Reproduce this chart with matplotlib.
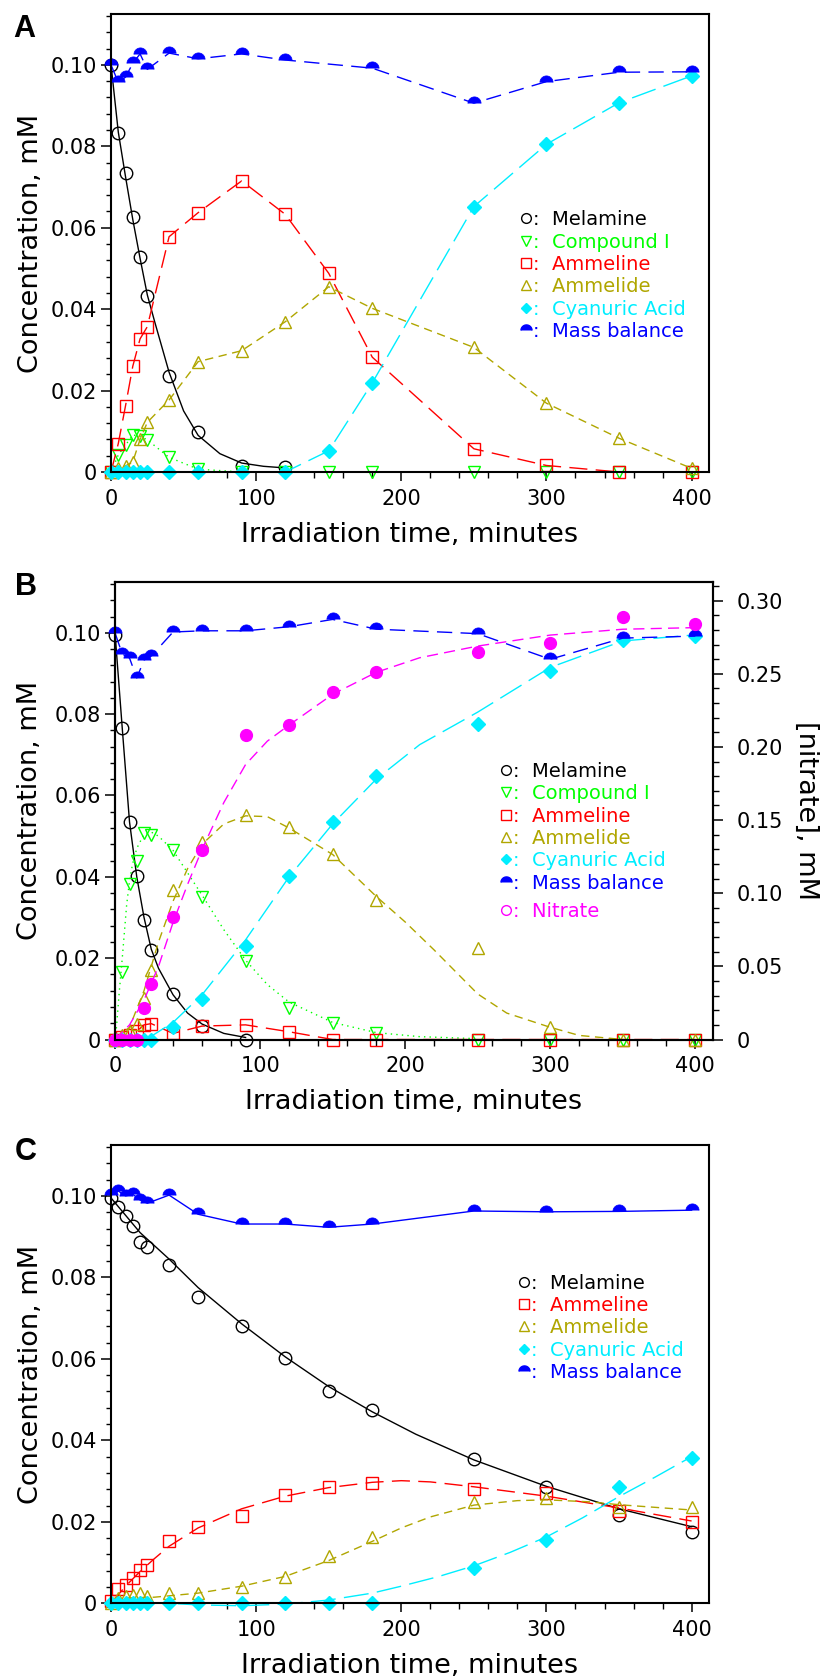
import numpy as np
import matplotlib.pyplot as plt
from matplotlib.lines import Line2D
from matplotlib.ticker import MultipleLocator, FuncFormatter

plt.rcParams['font.family'] = ['DejaVu Sans']

# ---- sampling times (minutes) ----
t = [0, 5, 10, 15, 20, 25, 40, 60, 90, 120, 150, 180, 250, 300, 350, 400]
t_mel_a = [0, 5, 10, 15, 20, 25, 40, 60, 90, 120]
t_mel_b = [0, 5, 10, 15, 20, 25, 40, 60, 90]
t_mass_a = [0, 5, 10, 15, 20, 25, 40, 60, 90, 120, 180, 250, 300, 350, 400]

# ---- panel A ----
a_melamine = [0.100, 0.0832, 0.0735, 0.0626, 0.0528, 0.0432, 0.0236, 0.0099, 0.0015, 0.0012]
a_mel_fit_t = [0, 5, 10, 15, 20, 25, 30, 40, 50, 60, 75, 90, 105, 120]
a_mel_fit = [0.100, 0.0835, 0.0725, 0.062, 0.0525, 0.0435, 0.037, 0.0245, 0.015, 0.009,
             0.0045, 0.0022, 0.0014, 0.0010]
a_compound = [0, 0.0042, 0.0066, 0.0091, 0.0088, 0.0079, 0.0036, 0.0007, 0, 0, 0, 0, 0, 0, 0, 0]
a_ammeline = [0, 0.0070, 0.0163, 0.0260, 0.0327, 0.0357, 0.0578, 0.0637, 0.0715, 0.0633,
              0.0488, 0.0282, 0.0057, 0.0016, 0, 0]
a_ammelide = [0, 0.001, 0.0015, 0.0025, 0.008, 0.0122, 0.0177, 0.0271, 0.0298, 0.0369,
              0.0455, 0.0402, 0.0306, 0.0169, 0.0083, 0.0009]
a_cyanuric = [0, 0, 0, 0, 0, 0, 0, 0, 0, 0, 0.0052, 0.0219, 0.0652, 0.0805, 0.0907, 0.0973]
a_mass = [0.1000, 0.0957, 0.0970, 0.1004, 0.1027, 0.0989, 0.1029, 0.1015, 0.1027, 0.1012,
          0.0992, 0.0906, 0.0959, 0.0982, 0.0983]

# ---- panel B ----
b_melamine = [0.0995, 0.0765, 0.0534, 0.0401, 0.0293, 0.0220, 0.0112, 0.0033, 0.0]
b_mel_fit_t = [0, 5, 10, 15, 20, 25, 30, 40, 50, 60, 75, 90]
b_mel_fit = [0.100, 0.0765, 0.0535, 0.040, 0.030, 0.0222, 0.0175, 0.0110, 0.0065, 0.0038, 0.0015, 0.0005]
b_compound = [0, 0.0166, 0.0383, 0.0439, 0.0507, 0.0504, 0.0467, 0.0350, 0.0193, 0.0077,
              0.0041, 0.0015, 0, 0, 0, 0]
b_comp_fit_t = [0, 1, 3, 5, 8, 10, 12, 15, 20, 25, 30, 40, 50, 60, 75, 90, 105, 120, 150, 180, 210, 250]
b_comp_fit = [0, 0.003, 0.012, 0.020, 0.033, 0.039, 0.043, 0.047, 0.0505, 0.051, 0.050, 0.0465,
              0.041, 0.0355, 0.027, 0.0195, 0.0135, 0.0092, 0.0042, 0.0017, 0.0007, 0.0002]
b_ammeline = [0, 0.0005, 0.001, 0.002, 0.0036, 0.0039, 0.0015, 0.0033, 0.0036, 0.0019, 0, 0, 0, 0, 0, 0]
b_ammelide = [0, 0.001, 0.002, 0.0038, 0.0101, 0.0172, 0.0367, 0.0485, 0.0551, 0.0522,
              0.0455, 0.0344, 0.0224, 0.0031, 0, 0]
b_amd_fit_t = [0, 10, 20, 30, 40, 50, 60, 75, 90, 105, 120, 150, 180, 200, 220, 250, 270, 300, 320, 350]
b_amd_fit = [0, 0.003, 0.012, 0.024, 0.034, 0.042, 0.048, 0.053, 0.055, 0.0548, 0.052, 0.0455,
             0.0352, 0.0289, 0.022, 0.0112, 0.0065, 0.003, 0.001, 0]
b_cyanuric = [0, 0, 0, 0, 0, 0, 0.003, 0.0099, 0.0229, 0.0401, 0.0534, 0.0649, 0.0777, 0.0907, 0.0982, 0.0992]
b_cya_fit_t = [20, 25, 40, 60, 90, 120, 150, 180, 210, 250, 300, 350, 400]
b_cya_fit = [0, 0.0008, 0.0042, 0.011, 0.0245, 0.040, 0.053, 0.064, 0.0725, 0.0805, 0.0915, 0.098, 0.0995]
b_mass = [0.1000, 0.0948, 0.0938, 0.0889, 0.0933, 0.0943, 0.1002, 0.1005, 0.1005, 0.1015,
          0.1033, 0.1009, 0.0998, 0.0935, 0.0987, 0.0992]
b_nitrate = [0, 0, 0, 0, 0.0216, 0.0382, 0.0838, 0.1298, 0.2079, 0.2147, 0.2375, 0.2516,
             0.2652, 0.2710, 0.2892, 0.2842]
b_nit_fit_t = [0, 10, 20, 30, 40, 50, 60, 75, 90, 105, 120, 150, 180, 210, 250, 300, 350, 400]
b_nit_fit = [0, 0.010, 0.027, 0.050, 0.080, 0.106, 0.130, 0.162, 0.188, 0.204, 0.215, 0.236,
             0.251, 0.261, 0.269, 0.2765, 0.2805, 0.2816]

# ---- panel C ----
c_melamine = [0.0996, 0.0973, 0.0950, 0.0926, 0.0887, 0.0875, 0.0830, 0.0751, 0.0680, 0.0601,
              0.0522, 0.0474, 0.0353, 0.0286, 0.0217, 0.0176]
c_mel_fit_t = [0, 20, 40, 60, 90, 120, 150, 180, 210, 250, 300, 350, 400]
c_mel_fit = [0.0995, 0.091, 0.0845, 0.0775, 0.0686, 0.0605, 0.0532, 0.047, 0.0415, 0.0352,
             0.0287, 0.0232, 0.0188]
c_ammeline = [0.0006, 0.0034, 0.0045, 0.0061, 0.0082, 0.0094, 0.0154, 0.0187, 0.0214, 0.0266,
              0.0285, 0.0296, 0.0280, 0.0270, 0.0227, 0.0200]
c_amn_fit_t = [0, 10, 20, 30, 40, 60, 90, 120, 150, 180, 200, 220, 250, 300, 350, 400]
c_amn_fit = [0.0, 0.0042, 0.0078, 0.0110, 0.0140, 0.0185, 0.0232, 0.0263, 0.0284, 0.0297,
             0.0301, 0.0298, 0.0286, 0.0263, 0.0234, 0.0202]
c_ammelide = [0, 0.0012, 0.0018, 0.002, 0.0025, 0.0018, 0.0025, 0.0025, 0.0041, 0.0064,
              0.0117, 0.0162, 0.0249, 0.0258, 0.0236, 0.0237]
c_amd_fit_t = [0, 30, 60, 90, 120, 150, 180, 200, 220, 250, 280, 300, 330, 350, 400]
c_amd_fit = [0.0012, 0.0015, 0.0025, 0.0042, 0.0066, 0.0105, 0.0152, 0.0185, 0.0212, 0.0241,
             0.0252, 0.0254, 0.0249, 0.0242, 0.0229]
c_cyanuric = [0, 0, 0, 0, 0, 0, 0, 0, 0, 0, 0, 0, 0.0086, 0.0155, 0.0286, 0.0357]
c_cya_fit_t = [0, 40, 60, 90, 120, 150, 180, 200, 225, 250, 275, 300, 325, 350, 375, 400]
c_cya_fit = [0, 0, -0.0004, -0.0006, -0.0002, 0.0008, 0.0025, 0.0042, 0.0065, 0.0092, 0.0125,
             0.0163, 0.021, 0.0262, 0.031, 0.036]
c_mass = [0.1002, 0.1012, 0.1000, 0.1004, 0.0990, 0.0982, 0.1002, 0.0955, 0.0931, 0.0931,
          0.0923, 0.0931, 0.0963, 0.0961, 0.0962, 0.0965]

# ---- styles ----
BLACK, GREEN, RED, OLIVE = 'black', '#00FF00', '#FF0000', '#B0A600'
CYAN, BLUE, MAGENTA = '#00EEFF', '#0000FF', '#FF00FF'
LW = 1.0
theta = np.linspace(0, np.pi, 25)
DOME = np.column_stack([np.cos(theta), np.sin(theta)])  # half-filled "mass balance" symbol

ls_mass = (0, (11, 6))
ls_amn = (0, (13, 6))
ls_amd = (0, (6, 4))
ls_comp = (0, (1, 3))
ls_cya = (0, (18, 6))
ls_nit = (0, (8, 4.5))

open_kw = dict(mfc='none', mew=1.0, ms=9, clip_on=False)


def zero_fmt(v, pos):
    return '0' if abs(v) < 1e-9 else f'{v:.2f}'


def style_axes(ax):
    ax.set_xlim(0, 412)
    ax.set_ylim(0, 0.1125)
    ax.xaxis.set_major_locator(MultipleLocator(100))
    ax.xaxis.set_minor_locator(MultipleLocator(20))
    ax.yaxis.set_major_locator(MultipleLocator(0.02))
    ax.yaxis.set_minor_locator(MultipleLocator(0.004))
    ax.yaxis.set_major_formatter(FuncFormatter(zero_fmt))
    ax.tick_params(axis='x', which='major', direction='out', length=6.5, width=1.1, pad=5.5, labelsize=15)
    ax.tick_params(axis='x', which='minor', direction='out', length=4.5, width=1.0)
    ax.tick_params(axis='y', which='major', direction='out', length=7, width=1.1, pad=3, labelsize=15)
    ax.tick_params(axis='y', which='minor', direction='out', length=3.5, width=1.0)
    for s in ax.spines.values():
        s.set_linewidth(1.5)
    ax.set_xlabel('Irradiation time, minutes', fontsize=19.5, va='center')
    ax.xaxis.set_label_coords(0.5, -0.137)
    ax.set_ylabel('Concentration, mM', fontsize=19.5, va='center')


def make_legend(ax, entries, anchor):
    handles, labels, colors = [], [], []
    for mk, col, filled, ms, lab in entries:
        handles.append(Line2D([], [], ls='none', marker=mk, ms=ms, mec=col, mew=1.0,
                              mfc=col if filled else 'none'))
        labels.append(':  ' + lab)
        colors.append(col)
    leg = ax.legend(handles, labels, loc='upper left', bbox_to_anchor=anchor, frameon=False,
                    fontsize=14, labelcolor=colors, handlelength=0.7, handletextpad=0.0,
                    labelspacing=0.17, borderpad=0.0, borderaxespad=0.0)
    return leg


fig = plt.figure(figsize=(8.28, 16.79), dpi=100)
axA = fig.add_axes([0.1341, 0.71888, 0.7222, 0.27278])
axB = fig.add_axes([0.1389, 0.38088, 0.7219, 0.27249])
axC = fig.add_axes([0.1341, 0.04509, 0.7222, 0.27296])

# ---------------- A ----------------
ax = axA
ax.plot(a_mel_fit_t, a_mel_fit, color=BLACK, lw=LW)
ax.plot(t_mel_a, a_melamine, ls='none', marker='o', mec=BLACK, **open_kw)
ax.plot(t, a_compound, color=GREEN, lw=LW, ls=ls_comp, marker='v', mec=GREEN, **open_kw)
ax.plot(t, a_ammeline, color=RED, lw=LW, ls=ls_amn, marker='s', mec=RED, **open_kw)
ax.plot(t, a_ammelide, color=OLIVE, lw=LW, ls=ls_amd, marker='^', mec=OLIVE, **open_kw)
ax.plot(t, a_cyanuric, color=CYAN, lw=LW, ls=ls_cya, marker='D', ms=7, mfc=CYAN, mec=CYAN, clip_on=False)
ax.plot(t_mass_a, a_mass, color=BLUE, lw=LW, ls=ls_mass, marker=DOME, ms=9.5, mfc=BLUE, mec=BLUE,
        mew=0.5, clip_on=False)
style_axes(ax)
ax.yaxis.set_label_coords(-0.134, 0.5)
make_legend(ax, [('o', BLACK, False, 7, 'Melamine'),
                 ('v', GREEN, False, 7, 'Compound I'),
                 ('s', RED, False, 7, 'Ammeline'),
                 ('^', OLIVE, False, 7, 'Ammelide'),
                 ('D', CYAN, True, 5, 'Cyanuric Acid'),
                 (DOME, BLUE, True, 8, 'Mass balance')], (0.683, 0.5714))

# ---------------- B ----------------
ax = axB
ax2 = ax.twinx()
ax.plot(b_mel_fit_t, b_mel_fit, color=BLACK, lw=LW)
ax.plot(t_mel_b, b_melamine, ls='none', marker='o', mec=BLACK, **open_kw)
ax.plot(b_comp_fit_t, b_comp_fit, color=GREEN, lw=LW, ls=ls_comp)
ax.plot(t, b_compound, ls='none', marker='v', mec=GREEN, **open_kw)
ax.plot(t, b_ammeline, color=RED, lw=LW, ls=ls_amn, marker='s', mec=RED, **open_kw)
ax.plot(b_amd_fit_t, b_amd_fit, color=OLIVE, lw=LW, ls=ls_amd)
ax.plot(t, b_ammelide, ls='none', marker='^', mec=OLIVE, **open_kw)
ax.plot(b_cya_fit_t, b_cya_fit, color=CYAN, lw=LW, ls=ls_cya)
ax.plot(t, b_cyanuric, ls='none', marker='D', ms=7, mfc=CYAN, mec=CYAN, clip_on=False)
ax.plot(t, b_mass, color=BLUE, lw=LW, ls=ls_mass, marker=DOME, ms=9.5, mfc=BLUE, mec=BLUE,
        mew=0.5, clip_on=False)
ax2.plot(b_nit_fit_t, b_nit_fit, color=MAGENTA, lw=LW, ls=ls_nit)
ax2.plot(t, b_nitrate, ls='none', marker='o', ms=8.5, mfc=MAGENTA, mec=MAGENTA, clip_on=False)
style_axes(ax)
ax.yaxis.set_label_coords(-0.142, 0.5)
ax2.set_ylim(0, 0.3128)
ax2.yaxis.set_major_locator(MultipleLocator(0.05))
ax2.yaxis.set_minor_locator(MultipleLocator(0.01))
ax2.yaxis.set_major_formatter(FuncFormatter(zero_fmt))
ax2.tick_params(axis='y', which='major', direction='out', length=7.5, width=1.1, pad=9.5, labelsize=15)
ax2.tick_params(axis='y', which='minor', direction='out', length=4.5, width=1.0)
for s in ax2.spines.values():
    s.set_linewidth(1.5)
ax2.set_ylabel('[nitrate], mM', fontsize=19.5, rotation=270, va='center', ha='center')
ax2.yaxis.set_label_coords(1.156, 0.5)
leg = make_legend(ax, [('o', BLACK, False, 7, 'Melamine'),
                       ('v', GREEN, False, 7, 'Compound I'),
                       ('s', RED, False, 7, 'Ammeline'),
                       ('^', OLIVE, False, 7, 'Ammelide'),
                       ('D', CYAN, True, 5, 'Cyanuric Acid'),
                       (DOME, BLUE, True, 8, 'Mass balance')], (0.643, 0.6066))
ax.add_artist(leg)
make_legend(ax, [('o', MAGENTA, False, 7, 'Nitrate')], (0.643, 0.3005))

# ---------------- C ----------------
ax = axC
ax.plot(c_mel_fit_t, c_mel_fit, color=BLACK, lw=LW)
ax.plot(t, c_melamine, ls='none', marker='o', mec=BLACK, **open_kw)
ax.plot(c_amn_fit_t, c_amn_fit, color=RED, lw=LW, ls=ls_amn)
ax.plot(t, c_ammeline, ls='none', marker='s', mec=RED, **open_kw)
ax.plot(c_amd_fit_t, c_amd_fit, color=OLIVE, lw=LW, ls=ls_amd)
ax.plot(t, c_ammelide, ls='none', marker='^', mec=OLIVE, **open_kw)
ax.plot(c_cya_fit_t, c_cya_fit, color=CYAN, lw=LW, ls=ls_cya, clip_on=False)
ax.plot(t, c_cyanuric, ls='none', marker='D', ms=7, mfc=CYAN, mec=CYAN, clip_on=False)
ax.plot(t, c_mass, color=BLUE, lw=LW, marker=DOME, ms=9.5, mfc=BLUE, mec=BLUE, mew=0.5, clip_on=False)
style_axes(ax)
ax.yaxis.set_label_coords(-0.134, 0.5)
make_legend(ax, [('o', BLACK, False, 7, 'Melamine'),
                 ('s', RED, False, 7, 'Ammeline'),
                 ('^', OLIVE, False, 7, 'Ammelide'),
                 ('D', CYAN, True, 5, 'Cyanuric Acid'),
                 (DOME, BLUE, True, 8, 'Mass balance')], (0.679, 0.7194))

# panel letters
for letter, x, y in [('A', 13, 37), ('B', 15, 595), ('C', 15, 1160)]:
    fig.text(x / 828, 1 - y / 1679, letter, fontsize=22, fontweight='bold',
             family='Liberation Sans', va='baseline', ha='left')

fig.savefig('out.png', dpi=100)
